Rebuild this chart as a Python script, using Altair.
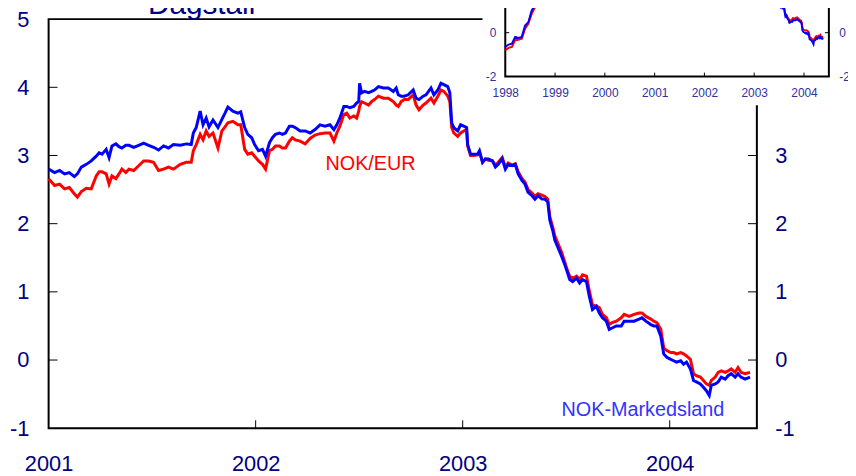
import altair as alt
import pandas as pd

# ---------------- data (decimal year, value) ----------------
t_2001 = [2001.000, 2001.029, 2001.053, 2001.077, 2001.100, 2001.124, 2001.139, 2001.158, 2001.182, 2001.206,
          2001.230, 2001.244, 2001.258, 2001.278, 2001.292, 2001.306, 2001.325, 2001.340, 2001.354, 2001.373,
          2001.388, 2001.411, 2001.435, 2001.459, 2001.483, 2001.507, 2001.531, 2001.555, 2001.579, 2001.603,
          2001.636, 2001.665, 2001.689, 2001.699, 2001.713, 2001.732, 2001.746, 2001.761, 2001.775, 2001.794,
          2001.818, 2001.837, 2001.852, 2001.866, 2001.890, 2001.914, 2001.928, 2001.947, 2001.962, 2001.981,
          2001.995]
blue_2001 = [2.80, 2.75, 2.78, 2.73, 2.75, 2.69, 2.73, 2.83, 2.87, 2.92,
             2.99, 3.04, 3.02, 3.09, 2.97, 3.14, 3.17, 3.13, 3.11, 3.15,
             3.15, 3.12, 3.15, 3.18, 3.15, 3.12, 3.08, 3.14, 3.11, 3.16,
             3.15, 3.17, 3.16, 3.33, 3.41, 3.65, 3.45, 3.55, 3.42, 3.52,
             3.41, 3.53, 3.62, 3.71, 3.65, 3.62, 3.64, 3.41, 3.31, 3.26,
             3.16]
red_2001 = [2.66, 2.56, 2.58, 2.51, 2.53, 2.44, 2.39, 2.47, 2.52, 2.51,
            2.70, 2.76, 2.76, 2.73, 2.58, 2.70, 2.66, 2.73, 2.80, 2.75,
            2.80, 2.78, 2.85, 2.92, 2.92, 2.90, 2.78, 2.80, 2.83, 2.80,
            2.87, 2.90, 2.90, 3.07, 3.16, 3.31, 3.23, 3.36, 3.28, 3.33,
            3.11, 3.36, 3.42, 3.48, 3.50, 3.45, 3.45, 3.09, 3.02, 3.04,
            2.99]

t_2002 = [2002.014, 2002.033, 2002.048, 2002.067, 2002.081, 2002.096, 2002.115, 2002.129, 2002.144, 2002.163,
          2002.177, 2002.191, 2002.215, 2002.239, 2002.263, 2002.287, 2002.311, 2002.335, 2002.359, 2002.378,
          2002.392, 2002.407, 2002.426, 2002.440, 2002.455, 2002.474, 2002.488, 2002.498, 2002.502, 2002.512,
          2002.526, 2002.545, 2002.560, 2002.574, 2002.593, 2002.617, 2002.641, 2002.665, 2002.679, 2002.689,
          2002.703, 2002.718, 2002.737, 2002.761, 2002.775, 2002.789, 2002.809, 2002.823, 2002.847, 2002.861,
          2002.880, 2002.895, 2002.909, 2002.928, 2002.938, 2002.947, 2002.957, 2002.976, 2002.990, 2003.005]
blue_2002 = [3.07, 3.09, 2.99, 3.19, 3.26, 3.31, 3.33, 3.31, 3.33, 3.43,
             3.43, 3.41, 3.36, 3.36, 3.33, 3.38, 3.45, 3.43, 3.45, 3.38,
             3.45, 3.55, 3.72, 3.72, 3.70, 3.72, 3.77, 3.79, 4.06, 3.92,
             3.94, 3.92, 3.94, 3.96, 4.01, 3.99, 3.99, 3.94, 3.99, 3.89,
             3.87, 3.87, 3.89, 3.96, 3.84, 3.82, 3.87, 3.89, 3.99, 3.89,
             3.96, 4.06, 4.04, 4.01, 3.92, 3.48, 3.41, 3.36, 3.45, 3.43]
red_2002 = [2.92, 2.87, 2.80, 3.07, 3.09, 3.14, 3.14, 3.11, 3.11, 3.21,
            3.26, 3.23, 3.21, 3.17, 3.25, 3.30, 3.32, 3.33, 3.33, 3.21,
            3.33, 3.43, 3.60, 3.62, 3.55, 3.58, 3.55, 3.65, 3.72, 3.79,
            3.77, 3.74, 3.79, 3.82, 3.87, 3.84, 3.84, 3.79, 3.74, 3.72,
            3.79, 3.82, 3.82, 3.89, 3.74, 3.67, 3.74, 3.77, 3.84, 3.77,
            3.87, 3.96, 3.94, 3.87, 3.79, 3.41, 3.33, 3.28, 3.33, 3.36]

t_2003 = [2003.019, 2003.024, 2003.038, 2003.053, 2003.072, 2003.081, 2003.096, 2003.110, 2003.124, 2003.144,
          2003.158, 2003.172, 2003.191, 2003.206, 2003.220, 2003.239, 2003.254, 2003.268, 2003.287, 2003.301,
          2003.316, 2003.335, 2003.349, 2003.364, 2003.383, 2003.397, 2003.411, 2003.421, 2003.435, 2003.445,
          2003.459, 2003.478]
blue_2003 = [3.41, 3.16, 3.02, 3.02, 3.02, 3.07, 2.90, 2.95, 2.95, 2.92,
             2.83, 2.87, 2.95, 2.80, 2.87, 2.85, 2.87, 2.73, 2.63, 2.58,
             2.46, 2.41, 2.36, 2.41, 2.36, 2.36, 2.32, 2.05, 1.90, 1.76,
             1.66, 1.52]
red_2003 = [3.38, 3.14, 3.00, 3.00, 3.01, 3.05, 2.90, 2.95, 2.93, 2.92,
            2.86, 2.90, 2.97, 2.83, 2.89, 2.86, 2.88, 2.76, 2.66, 2.61,
            2.50, 2.45, 2.40, 2.44, 2.42, 2.40, 2.36, 2.10, 1.95, 1.82,
            1.72, 1.58]

t_2004 = [2003.493, 2003.502, 2003.517, 2003.531, 2003.550, 2003.565, 2003.579, 2003.598, 2003.612, 2003.627,
          2003.646, 2003.660, 2003.675, 2003.694, 2003.708, 2003.722, 2003.742, 2003.766, 2003.780, 2003.804,
          2003.828, 2003.852, 2003.866, 2003.885, 2003.909, 2003.923, 2003.938, 2003.957, 2003.971, 2003.986,
          2004.005, 2004.019, 2004.033, 2004.053, 2004.067, 2004.081, 2004.100, 2004.115, 2004.129, 2004.148,
          2004.163, 2004.177, 2004.191, 2004.201, 2004.220, 2004.234, 2004.249, 2004.268, 2004.282, 2004.297,
          2004.316, 2004.330, 2004.344, 2004.364, 2004.388]
blue_2004 = [1.40, 1.32, 1.18, 1.15, 1.20, 1.13, 1.18, 1.15, 0.93, 0.74,
             0.79, 0.69, 0.62, 0.57, 0.45, 0.47, 0.50, 0.50, 0.57, 0.57,
             0.57, 0.60, 0.62, 0.57, 0.52, 0.50, 0.50, 0.35, 0.09, 0.04,
             0.01, -0.01, -0.03, -0.01, -0.06, -0.03, -0.13, -0.30, -0.32, -0.35,
             -0.40, -0.45, -0.52, -0.37, -0.35, -0.32, -0.25, -0.28, -0.23, -0.20,
             -0.25, -0.20, -0.25, -0.28, -0.25]
red_2004 = [1.44, 1.35, 1.23, 1.20, 1.23, 1.18, 1.25, 1.23, 1.01, 0.81,
            0.79, 0.77, 0.67, 0.62, 0.52, 0.55, 0.57, 0.62, 0.67, 0.64,
            0.67, 0.69, 0.69, 0.64, 0.60, 0.57, 0.55, 0.45, 0.18, 0.14,
            0.11, 0.11, 0.09, 0.11, 0.09, 0.06, 0.01, -0.20, -0.23, -0.25,
            -0.30, -0.35, -0.37, -0.30, -0.25, -0.18, -0.16, -0.18, -0.16, -0.13,
            -0.18, -0.11, -0.18, -0.20, -0.18]

# inset: early part (1998) visible in the small panel
t_1998 = [1998.000, 1998.066, 1998.133, 1998.199, 1998.264, 1998.332, 1998.398, 1998.463, 1998.531, 1998.596, 1998.630]
blue_1998 = [-0.65, -0.54, -0.50, -0.19, -0.24, -0.19, 0.33, 0.48, 1.01, 1.24, 1.39]
red_1998 = [-0.80, -0.69, -0.65, -0.34, -0.32, -0.27, 0.18, 0.41, 0.86, 1.16, 1.30]

main_years = [2001, 2002, 2003, 2004]
main_y_ticks = [-1, 0, 1, 2, 3, 4, 5]
inset_years = [1998, 1999, 2000, 2001, 2002, 2003, 2004]
inset_y_ticks = [-2, 0]

T = t_2001 + t_2002 + t_2003 + t_2004
B = blue_2001 + blue_2002 + blue_2003 + blue_2004
R = red_2001 + red_2002 + red_2003 + red_2004
main_df = pd.DataFrame({"t": T, "blue": B, "red": R})
inset_df = pd.DataFrame({"t": t_1998 + T, "blue": blue_1998 + B, "red": red_1998 + R})

# ---------------- layout ----------------
W, H = 715, 413
FONT = "Liberation Sans"
NAVY = "#000080"
INSET_C = "#3030a0"
PLAIN = "'' + datum.value"   # hyphen-minus instead of typographic minus

x_main = alt.Scale(domain=[2001, 2004.421], nice=False, zero=False)
y_main = alt.Scale(domain=[-1, 5], nice=False, zero=False)
x_inset = alt.Scale(domain=[1998, 2004.5], range=[461, 787.7], nice=False, zero=False)
y_inset = alt.Scale(domain=[-2, 2], range=[58, -30.6], nice=False, zero=False)

one = pd.DataFrame({"k": [0]})

# main tick marks (inward)
x_ticks = alt.Chart(pd.DataFrame({"v": main_years[1:]})).mark_rule(color="black", strokeWidth=1).encode(
    x=alt.X("v:Q", scale=x_main, axis=None), y=alt.value(H), y2=alt.value(H - 8))
yl_ticks = alt.Chart(pd.DataFrame({"v": main_y_ticks[1:-1]})).mark_rule(color="black", strokeWidth=1).encode(
    y=alt.Y("v:Q", scale=y_main, axis=None), x=alt.value(0), x2=alt.value(9))
yr_ticks = alt.Chart(pd.DataFrame({"v": main_y_ticks[1:-1]})).mark_rule(color="black", strokeWidth=1).encode(
    y=alt.Y("v:Q", scale=y_main, axis=None), x=alt.value(W), x2=alt.value(W - 9))

red_line = alt.Chart(main_df).mark_line(color="#ff0000", strokeWidth=3).encode(
    x=alt.X("t:Q", scale=x_main,
            axis=alt.Axis(values=main_years, labelExpr=PLAIN, title=None, orient="bottom", ticks=False,
                          domain=False, grid=False, labelPadding=26, labelFlush=False, labelOverlap=False)),
    y=alt.Y("red:Q", scale=y_main,
            axis=alt.Axis(values=main_y_ticks, labelExpr=PLAIN, orient="right", title=None, ticks=False,
                          domain=False, grid=False, labelPadding=18, labelOverlap=False)),
)
blue_line = alt.Chart(main_df).mark_line(color="#0000ff", strokeWidth=3).encode(
    x=alt.X("t:Q", scale=x_main, axis=None),
    y=alt.Y("blue:Q", scale=y_main,
            axis=alt.Axis(values=main_y_ticks, labelExpr=PLAIN, orient="left", title=None, ticks=False,
                          domain=False, grid=False, labelPadding=20, labelOverlap=False)),
)

lab_eur = alt.Chart(one).mark_text(text="NOK/EUR", color="#ff0000", font=FONT, fontSize=20,
                                   align="center", baseline="middle").encode(x=alt.value(325), y=alt.value(146))
lab_mkt = alt.Chart(one).mark_text(text="NOK-Markedsland", color="#3333ff", font=FONT, fontSize=20,
                                   align="center", baseline="middle").encode(x=alt.value(600), y=alt.value(395))
title = alt.Chart(one).mark_text(text="Dagstall", color=NAVY, font=FONT, fontSize=30,
                                 align="center", baseline="alphabetic").encode(x=alt.value(154.5), y=alt.value(-5))

# inset
inset_bg = alt.Chart(one).mark_rect(color="white").encode(
    x=alt.value(438), x2=alt.value(870), y=alt.value(-30), y2=alt.value(87))
inset_frame = alt.Chart(one).mark_rect(filled=False, stroke="black", strokeWidth=2).encode(
    x=alt.value(461), x2=alt.value(787.7), y=alt.value(-60), y2=alt.value(58))
ix_ticks = alt.Chart(pd.DataFrame({"v": inset_years[1:]})).mark_rule(color="black", strokeWidth=1).encode(
    x=alt.X("v:Q", scale=x_inset, axis=None), y=alt.value(58), y2=alt.value(54))
iyl_ticks = alt.Chart(pd.DataFrame({"v": [0]})).mark_rule(color="black", strokeWidth=1).encode(
    y=alt.Y("v:Q", scale=y_inset, axis=None), x=alt.value(461), x2=alt.value(465))
iyr_ticks = alt.Chart(pd.DataFrame({"v": [0]})).mark_rule(color="black", strokeWidth=1).encode(
    y=alt.Y("v:Q", scale=y_inset, axis=None), x=alt.value(787.7), x2=alt.value(783.7))

inset_red = alt.Chart(inset_df).mark_line(color="#ff0000", strokeWidth=2).encode(
    x=alt.X("t:Q", scale=x_inset,
            axis=alt.Axis(values=inset_years, labelExpr=PLAIN, title=None, orient="bottom", offset=-(H - 58),
                          ticks=False, domain=False, grid=False, labelPadding=11.5, labelFlush=False,
                          labelOverlap=False, labelFontSize=12, labelColor=INSET_C, zindex=1)),
    y=alt.Y("red:Q", scale=y_inset,
            axis=alt.Axis(values=inset_y_ticks, labelExpr=PLAIN, title=None, orient="left", offset=-461,
                          ticks=False, domain=False, grid=False, labelPadding=9.5, labelFontSize=12,
                          labelColor=INSET_C, zindex=1)),
)
inset_blue = alt.Chart(inset_df).mark_line(color="#0000ff", strokeWidth=2).encode(
    x=alt.X("t:Q", scale=x_inset, axis=None),
    y=alt.Y("blue:Q", scale=y_inset,
            axis=alt.Axis(values=inset_y_ticks, labelExpr=PLAIN, title=None, orient="right", offset=72.7,
                          ticks=False, domain=False, grid=False, labelPadding=10, labelFontSize=12,
                          labelColor=INSET_C, zindex=1)),
)

chart = alt.layer(
    x_ticks, yl_ticks, yr_ticks, red_line, blue_line, lab_eur, lab_mkt, title,
    inset_bg, inset_frame, ix_ticks, iyl_ticks, iyr_ticks, inset_red, inset_blue,
).resolve_scale(x="independent", y="independent").properties(
    width=W, height=H,
    autosize=alt.AutoSizeParams(type="none"),
    padding={"left": 41, "top": 9, "right": 92, "bottom": 46},
).configure_view(stroke="black", strokeWidth=2).configure_axis(
    labelFont=FONT, labelFontSize=22, labelColor=NAVY
)

chart.save("out.html", embed_options={"renderer": "svg", "actions": False})
